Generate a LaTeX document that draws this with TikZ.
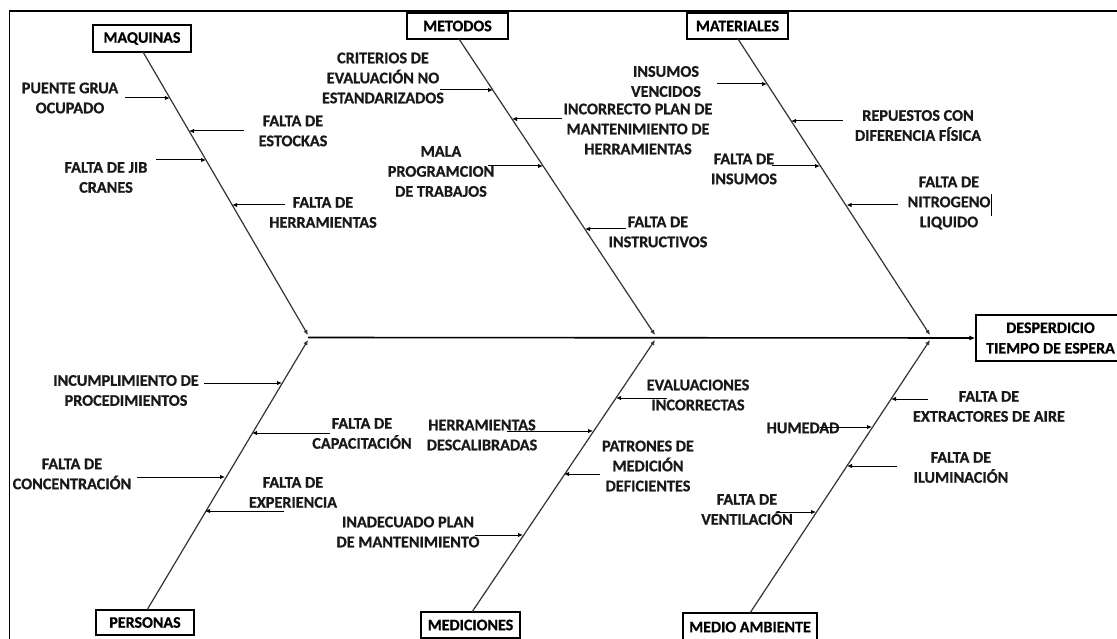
\documentclass[tikz,border=0pt]{standalone}
\usepackage{fontspec}
\setmainfont{Carlito}[BoldFeatures={FakeBold=0.8}]
\usetikzlibrary{arrows.meta}
\begin{document}
\begin{tikzpicture}[x=1pt,y=-1pt,
  lbl/.style={font=\fontsize{16.2}{20}\selectfont\bfseries, align=center, inner sep=0pt, text=black!90},
  cat/.style={draw, line width=1.3pt, font=\fontsize{16}{18}\selectfont\bfseries, inner sep=0pt, minimum height=26pt},
  bone/.style={line width=1.2pt, draw=black!80, -{Latex[length=5pt,width=4.5pt]}},
  cause/.style={line width=1pt, -{Latex[length=5pt,width=4.5pt]}},
  frame/.style={line width=1.5pt}]
\useasboundingbox (0,0) rectangle (1117,639);
% frame
\coordinate (f1) at (9.5,645);
\coordinate (f2) at (9.5,11);
\coordinate (f3) at (1125,11);
\draw[frame] (f1) -- (f2) -- (f3);

% category boxes
\node[cat, minimum width=98pt, minimum height=27pt] (maq) at (142,38.5) {MAQUINAS};
\node[cat, minimum width=101pt] (met) at (457.5,26) {METODOS};
\node[cat, minimum width=101pt] (mat) at (737.5,26) {MATERIALES};
\node[cat, minimum width=98pt, minimum height=25pt] (per) at (145,622.5) {PERSONAS};
\node[cat, minimum width=99pt] (med) at (470.5,625) {MEDICIONES};
\node[cat, minimum width=134pt, minimum height=28pt] (amb) at (750,627) {MEDIO AMBIENTE};
\node[cat, minimum width=149pt, minimum height=46pt, align=center, font=\fontsize{16}{20.5}\selectfont\bfseries] (head) at (1050.5,338) {DESPERDICIO\\TIEMPO DE ESPERA};

% spine
\coordinate (s0) at (308,337.5);
\draw[line width=1.6pt, -{Latex[length=6pt,width=5pt]}] (s0) -- (head.west);

% bone ends on spine
\coordinate (j1t) at (308,335);
\coordinate (j2t) at (655,335);
\coordinate (j3t) at (930,335);
\coordinate (j1b) at (308,340);
\coordinate (j2b) at (655,340);
\coordinate (j3b) at (930,340);
\coordinate (maqb) at (143,52);
\coordinate (metb) at (459,39);
\coordinate (matb) at (738,39);
\coordinate (pert) at (147,610);
\coordinate (medt) at (472,612);
\coordinate (ambt) at (750,613);
\draw[bone] (maqb) -- (j1t);
\draw[bone] (metb) -- (j2t);
\draw[bone] (matb) -- (j3t);
\draw[bone] (pert) -- (j1b);
\draw[bone] (medt) -- (j2b);
\draw[bone] (ambt) -- (j3b);

% ---- MAQUINAS causes
\node[lbl] (c1) at (70,98) {PUENTE GRUA\\OCUPADO};
\node[lbl] (c2) at (293,131) {FALTA DE\\ESTOCKAS};
\node[lbl] (c3) at (106,177.5) {FALTA DE JIB\\CRANES};
\node[lbl] (c4) at (323,212.5) {FALTA DE\\HERRAMIENTAS};
\coordinate (a1) at (125,98);  \coordinate (b1) at (169.8,98);
\coordinate (a2) at (244,131); \coordinate (b2) at (189,131);
\coordinate (a3) at (156,160); \coordinate (b3) at (206,160);
\coordinate (a4) at (285,205); \coordinate (b4) at (232,205);
\draw[cause] (a1) -- (b1);
\draw[cause] (a2) -- (b2);
\draw[cause] (a3) -- (b3);
\draw[cause] (a4) -- (b4);

% ---- METODOS causes
\node[lbl] (c5) at (383,78) {CRITERIOS DE\\EVALUACIÓN NO\\ESTANDARIZADOS};
\node[lbl] (c6) at (638,129) {INCORRECTO PLAN DE\\MANTENIMIENTO DE\\HERRAMIENTAS};
\node[lbl] (c7) at (441,171.5) {MALA\\PROGRAMCION\\DE TRABAJOS};
\node[lbl] (c8) at (658,232) {FALTA DE\\INSTRUCTIVOS};
\coordinate (a5) at (440,90);  \coordinate (b5) at (493,90);
\coordinate (a6) at (562,119); \coordinate (b6) at (512,119);
\coordinate (a7) at (488,166); \coordinate (b7) at (543,166);
\coordinate (a8) at (626,229); \coordinate (b8) at (585,229);
\draw[cause] (a5) -- (b5);
\draw[cause] (a6) -- (b6);
\draw[cause] (a7) -- (b7);
\draw[cause] (a8) -- (b8);

% ---- MATERIALES causes
\node[lbl] (c9) at (666,81.5) {INSUMOS\\VENCIDOS};
\node[lbl] (c10) at (918,125.5) {REPUESTOS CON\\DIFERENCIA FÍSICA};
\node[lbl] (c11) at (744,169) {FALTA DE\\INSUMOS};
\node[lbl] (c12) at (949,203) {FALTA DE\\NITROGENO\\LIQUIDO};
\coordinate (a9) at (717,84);   \coordinate (b9) at (767,84);
\coordinate (a10) at (843,121); \coordinate (b10) at (791,121);
\coordinate (a11) at (772,166); \coordinate (b11) at (820,166);
\coordinate (a12) at (898,205); \coordinate (b12) at (846.5,205);
\draw[cause] (a9) -- (b9);
\draw[cause] (a10) -- (b10);
\draw[cause] (a11) -- (b11);
\draw[cause] (a12) -- (b12);
\coordinate (k1) at (991,194);
\coordinate (k2) at (991,216);
\draw[line width=1pt] (k1) -- (k2);

% ---- PERSONAS causes
\node[lbl] (c13) at (126,390.5) {INCUMPLIMIENTO DE\\PROCEDIMIENTOS};
\node[lbl] (c14) at (362,433.5) {FALTA DE\\CAPACITACIÓN};
\node[lbl] (c15) at (72,474) {FALTA DE\\CONCENTRACIÓN};
\node[lbl] (c16) at (293,492.5) {FALTA DE\\EXPERIENCIA};
\coordinate (a13) at (204,383); \coordinate (b13) at (282,383);
\coordinate (a14) at (330,433); \coordinate (b14) at (252,433);
\coordinate (a15) at (137,477); \coordinate (b15) at (225,477);
\coordinate (a16) at (284,511); \coordinate (b16) at (205,511);
\draw[cause] (a13) -- (b13);
\draw[cause] (a14) -- (b14);
\draw[cause] (a15) -- (b15);
\draw[cause] (a16) -- (b16);

% ---- MEDICIONES causes
\node[lbl] (c17) at (698,395) {EVALUACIONES\\INCORRECTAS};
\node[lbl] (c18) at (482,435) {HERRAMIENTAS\\DESCALIBRADAS};
\node[lbl] (c19) at (648,466) {PATRONES DE\\MEDICIÓN\\DEFICIENTES};
\node[lbl] (c20) at (408,532) {INADECUADO PLAN\\DE MANTENIMIENTO};
\coordinate (a17) at (667,398); \coordinate (b17) at (616,398);
\coordinate (a18) at (507,431); \coordinate (b18) at (593,431);
\coordinate (a19) at (600,474); \coordinate (b19) at (564,474);
\coordinate (a20) at (475,535); \coordinate (b20) at (523,535);
\draw[cause] (a17) -- (b17);
\draw[cause] (a18) -- (b18);
\draw[cause] (a19) -- (b19);
\draw[cause] (a20) -- (b20);

% ---- MEDIO AMBIENTE causes
\node[lbl] (c21) at (989,406.5) {FALTA DE\\EXTRACTORES DE AIRE};
\node[lbl] (c22) at (803,428) {HUMEDAD};
\node[lbl] (c23) at (961,467.5) {FALTA DE\\ILUMINACIÓN};
\node[lbl] (c24) at (747,509.5) {FALTA DE\\VENTILACIÓN};
\coordinate (a21) at (928,399); \coordinate (b21) at (891,399);
\coordinate (a22) at (820,427); \coordinate (b22) at (872,427);
\coordinate (a23) at (897,466); \coordinate (b23) at (847,466);
\coordinate (a24) at (777,512); \coordinate (b24) at (816,512);
\draw[cause] (a21) -- (b21);
\draw[cause] (a22) -- (b22);
\draw[cause] (a23) -- (b23);
\draw[cause] (a24) -- (b24);
\end{tikzpicture}
\end{document}
